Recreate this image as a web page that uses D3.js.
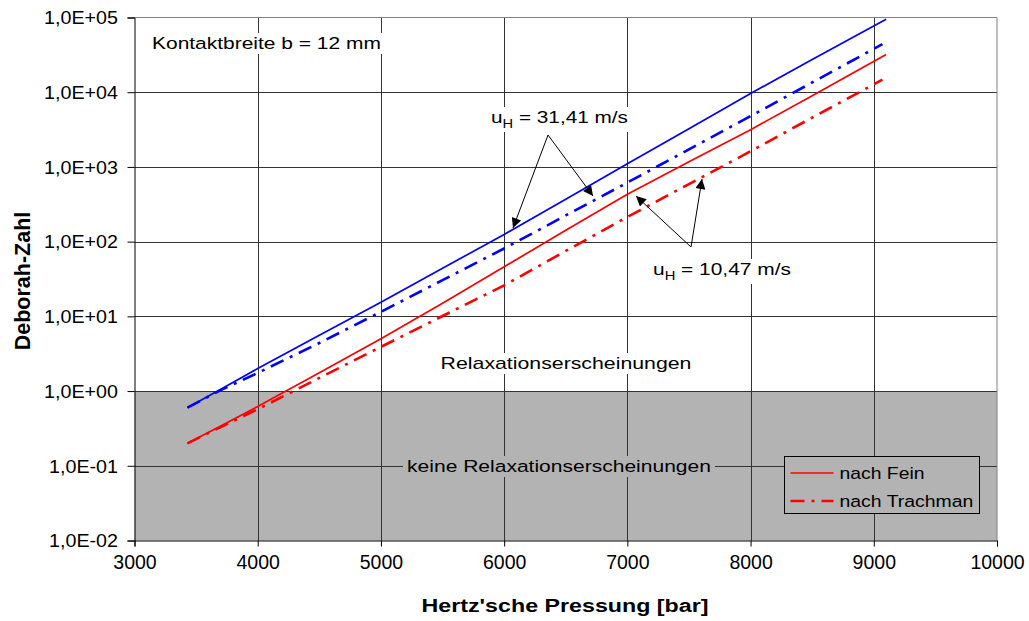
<!DOCTYPE html>
<html>
<head>
<meta charset="utf-8">
<script src="https://cdn.jsdelivr.net/npm/d3@7"></script>
<style>
  body { margin: 0; background: #fff; }
  text { font-family: "Liberation Sans", Arial, sans-serif; fill: #000; }
</style>
</head>
<body>
<div id="chart"></div>
<script>
// data
const pressureFein = [3430, 3700, 4000, 4500, 5000, 5500, 6000, 6500, 7000, 7500, 8000, 8500, 9100];
const pressureTrachman = [3430, 3700, 4000, 4500, 5000, 5500, 6000, 6500, 7000, 7500, 8000, 8500, 9070];
const fein31 = [0.6, 1.06, 2.0, 5.6, 15.5, 44, 125, 370, 1100, 3250, 9600, 27500, 95000];
const trachman31 = [0.6, 1.03, 1.75, 4.4, 11.5, 30.5, 81, 224, 617, 1720, 4790, 13500, 44000];
const fein10 = [0.2, 0.34, 0.62, 1.76, 5.0, 15, 46, 142, 430, 1170, 3150, 9000, 32000];
const trachman10 = [0.2, 0.33, 0.57, 1.5, 3.9, 10.1, 26, 75, 214, 590, 1620, 4570, 14700];
const xTicks = [3000, 4000, 5000, 6000, 7000, 8000, 9000, 10000];
const yTicks = [1e-2, 1e-1, 1e0, 1e1, 1e2, 1e3, 1e4, 1e5];
const legendLabels = ["nach Fein", "nach Trachman"];

const width = 1029, height = 621;
const plot = {left: 134.5, right: 997, top: 17.5, bottom: 540.5};
const grey = "#b3b3b3";

const svg = d3.select("#chart")
  .append("svg")
    .attr("width", width)
    .attr("height", height);

const x = d3.scaleLinear().domain([3000, 10000]).range([plot.left, plot.right]);
const y = d3.scaleLog().domain([1e-2, 1e5]).range([plot.bottom, plot.top]);

// grey zone below Deborah = 1
svg.append("rect")
  .attr("x", plot.left)
  .attr("y", y(1))
  .attr("width", plot.right - plot.left)
  .attr("height", plot.bottom - y(1))
  .attr("fill", grey);

// gridlines
svg.append("g").selectAll("line")
  .data(yTicks.slice(1, -1))
  .join("line")
    .attr("x1", plot.left).attr("x2", plot.right)
    .attr("y1", d => Math.round(y(d)) + 0.5).attr("y2", d => Math.round(y(d)) + 0.5)
    .attr("stroke", "#333");
svg.append("g").selectAll("line")
  .data(xTicks.slice(1, -1))
  .join("line")
    .attr("x1", d => Math.round(x(d)) + 0.5).attr("x2", d => Math.round(x(d)) + 0.5)
    .attr("y1", plot.top).attr("y2", plot.bottom)
    .attr("stroke", "#333");

// plot frame (grey top/right)
svg.append("path")
  .attr("d", `M${plot.left},${plot.top}H${plot.right}V${plot.bottom}`)
  .attr("fill", "none")
  .attr("stroke", "#808080");

// axes
const fmtE = d => {
  const e = Math.round(Math.log10(d));
  return "1,0E" + (e < 0 ? "-" : "+") + String(Math.abs(e)).padStart(2, "0");
};

const yAxis = svg.append("g")
  .attr("transform", `translate(${plot.left},0)`)
  .call(d3.axisLeft(y).tickValues(yTicks).tickFormat(fmtE).tickSize(7));
const xAxis = svg.append("g")
  .attr("transform", `translate(0,${plot.bottom})`)
  .call(d3.axisBottom(x).tickValues(xTicks).tickFormat(d3.format("d")).tickSize(6));

[yAxis, xAxis].forEach(g => {
  g.select(".domain").attr("stroke", "#000");
  g.selectAll(".tick line").attr("stroke", "#000");
  g.selectAll(".tick text").style("font-family", "'Liberation Sans', Arial, sans-serif");
});
// y labels a bit wider than the font, like in the original
const yLab = yAxis.selectAll(".tick text").style("font-size", "18px");
const ys = 74 / yLab.nodes()[yLab.size() - 1].getComputedTextLength();
yLab
  .attr("x", -16.5 / ys)
  .attr("dy", "0.35em")
  .attr("transform", `scale(${ys},1)`);
xAxis.selectAll(".tick text")
  .style("font-size", "19.5px")
  .attr("y", 22)
  .attr("dy", "0.35em");

// series lines
const line = (xs) => d3.line()
  .x((d, i) => x(xs[i]))
  .y(d => y(d));

const dashDot = "14,7,3,7";
const series = [
  {values: fein31, xs: pressureFein, color: "#0000ff", dash: null, w: 1.7},
  {values: trachman31, xs: pressureTrachman, color: "#0000ff", dash: dashDot, w: 2.6},
  {values: fein10, xs: pressureFein, color: "#ff0000", dash: null, w: 1.7},
  {values: trachman10, xs: pressureTrachman, color: "#ff0000", dash: dashDot, w: 2.6}
];

svg.append("g").selectAll("path")
  .data(series)
  .join("path")
    .attr("d", s => line(s.xs)(s.values))
    .attr("fill", "none")
    .attr("stroke", s => s.color)
    .attr("stroke-width", s => s.w)
    .attr("stroke-dasharray", s => s.dash);

// text label stretched to the width seen in the reference, with a background box
function label(tx, ty, targetW, anchor, bg, fill) {
  const g = svg.append("g");
  const rect = g.append("rect").attr("fill", bg || "none");
  const t = g.append("text")
    .attr("text-anchor", anchor)
    .style("font-size", "17px");
  fill(t);
  const b = t.node().getBBox();
  const s = targetW / b.width;
  rect.attr("x", b.x - 4 / s).attr("y", b.y - 1).attr("width", b.width + 8 / s).attr("height", b.height + 2);
  g.attr("transform", `translate(${tx},${ty}) scale(${s},1)`);
  return g;
}

label(152, 49, 229, "start", "#fff", t => t.text("Kontaktbreite b = 12 mm"));
label(566, 369, 251, "middle", "#fff", t => t.text("Relaxationserscheinungen"));
label(559, 472, 304, "middle", grey, t => t.text("keine Relaxationserscheinungen"));

const speed = val => t => {
  t.append("tspan").text("u");
  t.append("tspan").attr("dy", 5).style("font-size", "12px").text("H");
  t.append("tspan").attr("dy", -5).text(" = " + val);
};
label(491, 123, 137, "start", "#fff", speed("31,41 m/s"));
label(653, 275, 138, "start", "#fff", speed("10,47 m/s"));

// arrows
svg.append("defs").append("marker")
  .attr("id", "arrow")
  .attr("viewBox", "0 0 10 10")
  .attr("refX", 10).attr("refY", 5)
  .attr("markerWidth", 14).attr("markerHeight", 10)
  .attr("markerUnits", "userSpaceOnUse")
  .attr("orient", "auto")
  .append("path")
    .attr("d", "M0,0L10,5L0,10Z")
    .attr("fill", "#000");

const arrows = [
  [548, 135, 513, 228],
  [548, 135, 593, 196],
  [691, 247, 636, 196],
  [691, 247, 702, 179]
];
svg.append("g").selectAll("line")
  .data(arrows)
  .join("line")
    .attr("x1", d => d[0]).attr("y1", d => d[1])
    .attr("x2", d => d[2]).attr("y2", d => d[3])
    .attr("stroke", "#000")
    .attr("stroke-width", 1)
    .attr("marker-end", "url(#arrow)");

// legend
const legend = svg.append("g").attr("transform", "translate(784.5,456.5)");
legend.append("rect")
  .attr("width", 195).attr("height", 57)
  .attr("fill", grey)
  .attr("stroke", "#000");
const legendW = [85, 134];
const items = legend.selectAll("g.item")
  .data(legendLabels)
  .join("g")
    .attr("class", "item")
    .attr("transform", (d, i) => `translate(0,${16.5 + i * 28})`);
items.append("line")
  .attr("x1", 6).attr("x2", 49)
  .attr("stroke", "#ff0000")
  .attr("stroke-width", (d, i) => i ? 2.6 : 1.7)
  .attr("stroke-dasharray", (d, i) => i ? dashDot : null);
items.append("text")
  .attr("dy", "0.35em")
  .style("font-size", "17px")
  .text(d => d)
  .each(function(d, i) {
    const s = legendW[i] / this.getComputedTextLength();
    d3.select(this).attr("transform", `translate(55,0) scale(${s},1)`);
  });

// axis titles
const xt = svg.append("text")
  .attr("text-anchor", "middle")
  .style("font-size", "18.5px").style("font-weight", "bold")
  .text("Hertz'sche Pressung [bar]");
xt.attr("transform", `translate(565,612) scale(${287 / xt.node().getComputedTextLength()},1)`);

svg.append("text")
  .attr("transform", "translate(30,281) rotate(-90)")
  .attr("text-anchor", "middle")
  .style("font-size", "21.5px").style("font-weight", "bold")
  .text("Deborah-Zahl");
</script>
</body>
</html>
